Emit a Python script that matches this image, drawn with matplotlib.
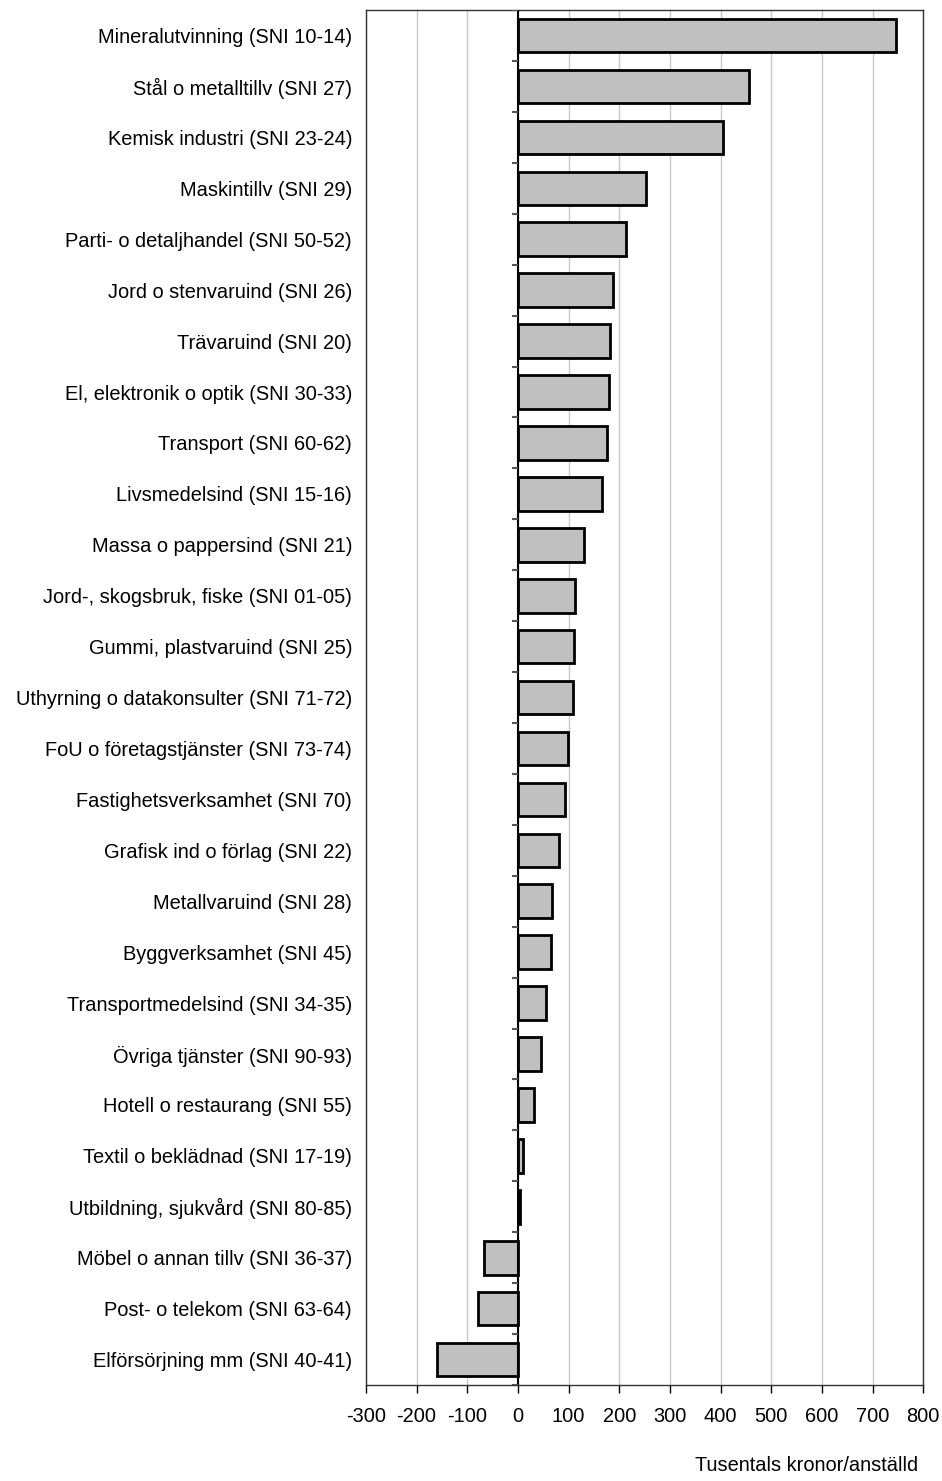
import matplotlib
matplotlib.use('Agg')
from matplotlib import pyplot as plt
import numpy as np

plt.rcParams['font.family'] = ['Liberation Sans', 'DejaVu Sans']

# branscher, uppifrån och ned
branscher = [
    "Mineralutvinning (SNI 10-14)",
    "Stål o metalltillv (SNI 27)",
    "Kemisk industri (SNI 23-24)",
    "Maskintillv (SNI 29)",
    "Parti- o detaljhandel (SNI 50-52)",
    "Jord o stenvaruind (SNI 26)",
    "Trävaruind (SNI 20)",
    "El, elektronik o optik (SNI 30-33)",
    "Transport (SNI 60-62)",
    "Livsmedelsind (SNI 15-16)",
    "Massa o pappersind (SNI 21)",
    "Jord-, skogsbruk, fiske (SNI 01-05)",
    "Gummi, plastvaruind (SNI 25)",
    "Uthyrning o datakonsulter (SNI 71-72)",
    "FoU o företagstjänster (SNI 73-74)",
    "Fastighetsverksamhet (SNI 70)",
    "Grafisk ind o förlag (SNI 22)",
    "Metallvaruind (SNI 28)",
    "Byggverksamhet (SNI 45)",
    "Transportmedelsind (SNI 34-35)",
    "Övriga tjänster (SNI 90-93)",
    "Hotell o restaurang (SNI 55)",
    "Textil o beklädnad (SNI 17-19)",
    "Utbildning, sjukvård (SNI 80-85)",
    "Möbel o annan tillv (SNI 36-37)",
    "Post- o telekom (SNI 63-64)",
    "Elförsörjning mm (SNI 40-41)",
]
varden = [746, 457, 404, 253, 213, 188, 182, 180, 176, 166, 130,
          113, 110, 108, 98, 92, 82, 68, 66, 56, 46, 32, 10, 5,
          -67, -79, -160]
xticks = list(range(-300, 801, 100))

fs = 14.4

fig = plt.figure(figsize=(9.42, 14.81), dpi=100)
ax = fig.add_axes([0.3885, 0.0648, 0.5915, 0.9284])

y = np.arange(len(branscher))
ax.barh(y, varden, height=0.66, color='#C0C0C0', edgecolor='black',
        linewidth=2, zorder=3)

ax.set_xlim(-300, 800)
ax.set_ylim(len(branscher) - 0.5, -0.5)
ax.set_xticks(xticks)
ax.set_xticklabels([str(t) for t in xticks], fontsize=fs)
ax.set_yticks(y)
ax.set_yticklabels(branscher, fontsize=fs)
ax.tick_params(axis='y', length=0, pad=10)
ax.tick_params(axis='x', length=6, width=1, direction='out', pad=10)

ax.grid(axis='x', color='#C8C8C8', linewidth=1, zorder=0)
for s in ax.spines.values():
    s.set_color('#333333')
    s.set_linewidth(1)

# kategoriaxeln vid noll med små streck mellan staplarna
ax.axvline(0, color='black', linewidth=1.5, zorder=4)
granser = np.arange(len(branscher) + 1) - 0.5
ax.hlines(granser, -12, 0, color='#555555', linewidth=1.5, zorder=4)

fig.text(0.975, 0.004, "Tusentals kronor/anställd", ha='right',
         va='bottom', fontsize=fs)

plt.savefig('out.png', dpi=100)
